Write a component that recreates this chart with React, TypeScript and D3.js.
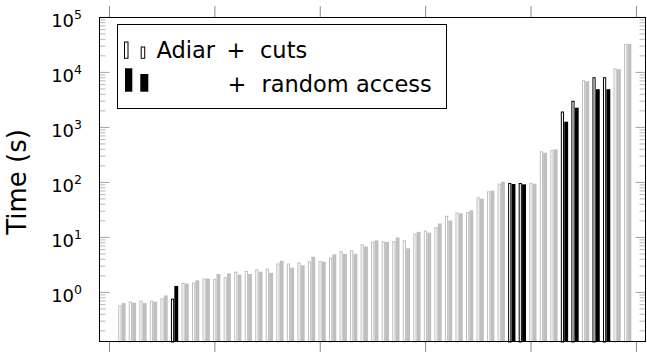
import React from "react";
import * as d3 from "d3";

const pairIds = d3.range(1, 50);
const cutsTimes = [0.58,0.68,0.71,0.71,0.78,0.77,1.50,1.50,1.79,1.77,1.89,2.38,2.45,2.64,2.70,3.35,3.35,3.50,3.65,3.72,4.31,5.61,5.85,7.52,8.42,8.49,8.53,8.85,11.7,13.3,15.3,24.7,28.4,29.0,53.6,68.9,94.7,97.6,97.6,97.6,369,388,1945,3055,7210,8180,8180,11800,33100];
const raTimes = [0.64,0.65,0.64,0.68,0.88,1.31,1.45,1.66,1.79,2.16,2.21,2.11,2.16,2.38,2.27,3.77,2.81,3.12,4.46,3.61,4.93,5.03,5.03,6.84,8.85,8.25,9.96,6.34,12.6,12.2,17.9,20.3,27.4,31.1,50.6,70.6,103,93.5,92.3,94.7,347,400,1270,2280,6920,4950,4950,11400,33100];
const highlighted = [6, 38, 39, 43, 44, 46, 47];
const xTicks = [0, 10, 20, 30, 40, 50];
const yMajor = [0, 1, 2, 3, 4, 5];
const legendLabels = ["Adiar", "+", "cuts", "+", "random access"];

const FONT = "DejaVu Sans";
const GRAY = "#bfbfbf";

export default function App() {
  const L = 99.5, R = 645.5, T = 17.5, B = 341.5;
  const x = d3.scaleLinear().domain([0, 50]).range([109.5, 636.4]);
  const y = d3.scaleLog().domain([0.127, 1e5]).range([341.7, 17.4]);

  const minors: number[] = [];
  for (let e = -1; e < 5; e++) {
    for (let m = 2; m <= 9; m++) {
      const v = m * Math.pow(10, e);
      if (v >= 0.127 && v <= 1e5) minors.push(v);
    }
  }

  return (
    <svg width={647} height={352} style={{ position: "absolute", left: 0, top: 0 }} fontFamily={FONT}>
      <rect x={0} y={0} width={647} height={352} fill="white" />
      {/* bars */}
      {pairIds.map((id, i) => {
        const hl = highlighted.includes(id);
        const cx = x(id);
        const yw = y(cutsTimes[i]);
        const yr = y(raTimes[i]);
        return (
          <g key={id}>
            <rect x={cx - 1.3} y={yw + 0.5} width={2.2} height={B - yw} fill="white" stroke={hl ? "black" : GRAY} strokeWidth={1} />
            <rect x={cx + 1.6} y={yr} width={3.9} height={B + 0.5 - yr} fill={hl ? "black" : GRAY} />
          </g>
        );
      })}
      {/* y ticks */}
      {yMajor.map((e) => {
        const yy = y(Math.pow(10, e));
        return (
          <g key={"M" + e}>
            <line x1={L} x2={L + 10} y1={yy} y2={yy} stroke="#8a8a8a" strokeWidth={0.8} />
            <line x1={R} x2={R - 10} y1={yy} y2={yy} stroke="#8a8a8a" strokeWidth={0.8} />
            <text x={82} y={yy + 10} textAnchor="end" fontSize={18} fill="black">
              <tspan>10</tspan>
              <tspan fontSize={12.5} dy={-8}>{e}</tspan>
            </text>
          </g>
        );
      })}
      {minors.map((v, k) => {
        const yy = y(v);
        return (
          <g key={"m" + k}>
            <line x1={L} x2={L + 6} y1={yy} y2={yy} stroke="#9a9a9a" strokeWidth={0.7} />
            <line x1={R} x2={R - 6} y1={yy} y2={yy} stroke="#9a9a9a" strokeWidth={0.7} />
          </g>
        );
      })}
      {/* x ticks */}
      {xTicks.map((t) => (
        <g key={"x" + t}>
          <line x1={x(t)} x2={x(t)} y1={T} y2={6} stroke="#8a8a8a" strokeWidth={1} />
          <line x1={x(t)} x2={x(t)} y1={B} y2={352} stroke="#8a8a8a" strokeWidth={1} />
        </g>
      ))}
      {/* frame */}
      <rect x={L} y={T} width={R - L} height={B - T} fill="none" stroke="black" strokeWidth={1} />
      {/* y label */}
      <text transform="translate(26,182) rotate(-90)" textAnchor="middle" fontSize={26} fill="black">Time (s)</text>
      {/* legend */}
      <rect x={117.5} y={24.5} width={329} height={84} fill="white" stroke="black" strokeWidth={1} />
      <rect x={124.5} y={42} width={3.5} height={16.3} fill="white" stroke="black" strokeWidth={1} />
      <rect x={141.2} y={47} width={3.5} height={11.3} fill="white" stroke="black" strokeWidth={1} />
      <rect x={125} y={68.3} width={7.3} height={23.4} fill="black" />
      <rect x={140.3} y={74} width={8} height={17.7} fill="black" />
      <text x={156.5} y={58.3} fontSize={22.5} fill="black">{legendLabels[0]}</text>
      <text x={226.5} y={58.3} fontSize={22.5} fill="black">{legendLabels[1]}</text>
      <text x={260} y={58.3} fontSize={22.5} fill="black">{legendLabels[2]}</text>
      <text x={227.5} y={91.7} fontSize={22.5} fill="black">{legendLabels[3]}</text>
      <text x={261.5} y={91.7} fontSize={22.5} fill="black">{legendLabels[4]}</text>
    </svg>
  );
}
